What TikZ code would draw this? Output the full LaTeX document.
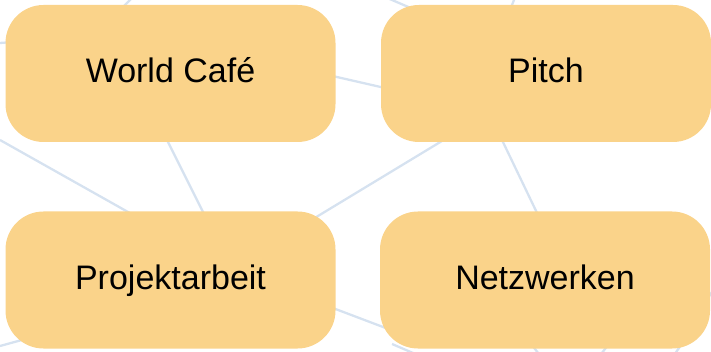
\documentclass[tikz,border=0pt]{standalone}
\usepackage{fontspec}
\setmainfont{Liberation Sans}
\definecolor{boxfill}{HTML}{FAD38A}
\definecolor{netline}{HTML}{D6E2F0}
\begin{document}
\begin{tikzpicture}[x=1pt,y=-1pt,
  card/.style={fill=boxfill, draw=none, rounded corners=38pt, minimum width=330pt, minimum height=137pt, font=\fontsize{34}{40}\selectfont, text=black, inner sep=0pt, text height=24pt, text depth=5pt},
  net/.style={draw=netline, line width=2.3pt}]
\useasboundingbox (0,0) rectangle (711,352);
\begin{scope}
\clip (0,0) rectangle (711,352);
\draw[net] (0,43) -- (40,40);
\draw[net] (0,140) -- (160,230);
\draw[net] (150,106) -- (215,236);
\draw[net] (470,124) -- (280,239);
\draw[net] (490,115) -- (550,240);
\draw[net] (280,64) -- (420,96);
\draw[net] (280,288) -- (420,341);
\draw[net] (135,-5) -- (115,15);
\draw[net] (385,-3) -- (420,12);
\draw[net] (516,-5) -- (508,15);
\draw[net] (0,346) -- (40,335);
\draw[net] (392,344) -- (420,356);
\draw[net] (528,340) -- (542,358);
\draw[net] (612,340) -- (598,358);
\draw[net] (688,335) -- (672,358);
\draw[net] (720,280) -- (700,310);
\end{scope}
\node[card] (wc) at (170.5,73.5) {World Café};
\node[card] (pi) at (546,73.5) {Pitch};
\node[card] (pa) at (170.5,280) {Projektarbeit};
\node[card] (nw) at (545,280) {Netzwerken};
\end{tikzpicture}
\end{document}
